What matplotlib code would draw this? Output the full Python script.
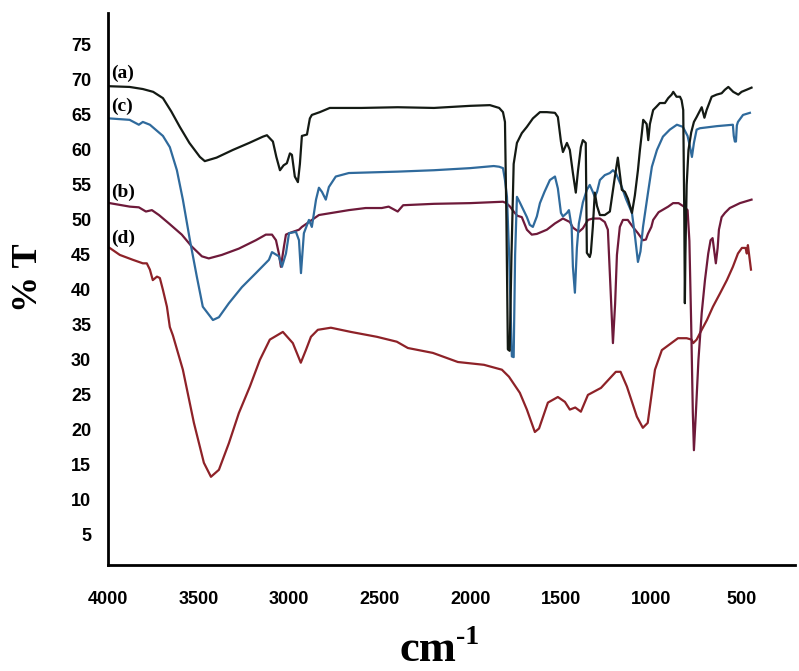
import matplotlib
matplotlib.use("Agg")
import matplotlib.pyplot as plt

# FTIR spectra: (wavenumber cm-1, %T)
spectrum_a = [
    (3990, 69.1), (3880, 69.0), (3807, 68.7), (3750, 68.3), (3696, 67.4), (3650, 65.5),
    (3603, 63.3), (3550, 61.0), (3492, 59.0), (3465, 58.4), (3400, 58.9), (3310, 60.0),
    (3220, 61.0), (3144, 61.9), (3122, 62.1), (3089, 61.2), (3070, 59.0), (3050, 57.1),
    (3030, 57.8), (3012, 58.1), (2995, 59.5), (2984, 59.3), (2968, 56.2), (2951, 55.4),
    (2940, 58.0), (2929, 62.0), (2901, 62.2), (2885, 64.5), (2874, 65.0), (2830, 65.4),
    (2775, 66.0), (2600, 66.0), (2400, 66.1), (2200, 66.0), (2000, 66.3), (1891, 66.4),
    (1840, 66.0), (1819, 65.4), (1808, 64.0), (1800, 50.0), (1792, 31.5), (1782, 31.3),
    (1772, 45.0), (1760, 58.0), (1742, 61.0), (1715, 62.4), (1687, 63.3), (1654, 64.5),
    (1615, 65.4), (1577, 65.4), (1532, 65.3), (1516, 64.7), (1499, 61.2), (1488, 59.7),
    (1466, 61.0), (1450, 60.0), (1433, 56.7), (1417, 53.9), (1405, 57.0), (1389, 60.4),
    (1378, 61.4), (1362, 61.0), (1356, 45.3), (1340, 44.7), (1334, 45.3), (1323, 49.0),
    (1312, 53.9), (1300, 52.0), (1284, 50.7), (1257, 50.7), (1229, 51.2), (1201, 56.2),
    (1185, 58.9), (1163, 54.3), (1146, 54.0), (1129, 53.0), (1107, 51.0), (1091, 53.5),
    (1074, 57.1), (1063, 60.0), (1052, 62.5), (1045, 64.3), (1035, 64.0), (1026, 63.7),
    (1017, 61.4), (1008, 63.7), (990, 65.7), (971, 66.2), (953, 66.7), (925, 66.7),
    (907, 67.4), (888, 67.9), (879, 68.3), (861, 67.6), (842, 67.6), (833, 67.1),
    (824, 65.7), (818, 50.0), (815, 38.1), (812, 45.0), (805, 55.0), (795, 60.0),
    (780, 62.5), (765, 64.0), (750, 64.7), (722, 66.1), (707, 64.6), (695, 65.7),
    (667, 67.6), (640, 67.9), (612, 68.1), (594, 68.6), (575, 69.0), (548, 68.3),
    (520, 67.9), (502, 68.3), (474, 68.6), (447, 68.9),
]

spectrum_b = [
    (3990, 52.4), (3879, 51.9), (3829, 51.8), (3790, 51.2), (3757, 51.4), (3718, 50.7),
    (3663, 49.5), (3592, 47.9), (3537, 46.2), (3481, 44.8), (3443, 44.5), (3371, 45.0),
    (3277, 45.9), (3183, 47.1), (3128, 47.9), (3094, 47.9), (3072, 47.1), (3056, 45.2),
    (3045, 43.3), (3028, 46.2), (3017, 47.9), (3000, 48.1), (2945, 48.6), (2929, 49.0),
    (2890, 49.7), (2835, 50.7), (2764, 51.0), (2670, 51.4), (2577, 51.7), (2488, 51.7),
    (2450, 51.9), (2400, 51.2), (2370, 52.1), (2200, 52.3), (2000, 52.4), (1819, 52.6),
    (1800, 52.4), (1780, 51.9), (1760, 51.2), (1740, 50.6), (1715, 50.4), (1687, 48.6),
    (1660, 47.9), (1632, 48.0), (1577, 48.6), (1532, 49.5), (1488, 50.2), (1450, 49.7),
    (1433, 48.9), (1400, 48.3), (1378, 48.8), (1350, 50.0), (1323, 50.2), (1284, 50.2),
    (1257, 49.7), (1240, 48.6), (1225, 40.0), (1212, 32.4), (1200, 38.0), (1190, 45.0),
    (1174, 49.0), (1157, 50.0), (1130, 50.0), (1102, 49.0), (1074, 48.1), (1046, 47.1),
    (1030, 47.2), (1019, 48.0), (1000, 49.0), (990, 50.0), (960, 51.1), (907, 51.9),
    (880, 52.4), (850, 52.4), (820, 51.9), (800, 51.4), (790, 47.0), (780, 35.0),
    (771, 22.4), (765, 17.1), (755, 22.0), (740, 30.0), (722, 36.7), (704, 41.4),
    (686, 45.2), (673, 47.1), (662, 47.4), (655, 46.0), (644, 43.8), (634, 46.0),
    (627, 48.6), (612, 50.4), (594, 51.0), (567, 51.7), (511, 52.4), (447, 52.9),
]

spectrum_c = [
    (3990, 64.5), (3880, 64.3), (3829, 63.6), (3807, 64.0), (3768, 63.6), (3696, 62.0),
    (3658, 60.4), (3619, 57.1), (3586, 52.9), (3547, 47.1), (3509, 41.9), (3476, 37.6),
    (3420, 35.7), (3387, 36.1), (3332, 38.1), (3260, 40.4), (3183, 42.4), (3111, 44.3),
    (3094, 45.4), (3056, 44.8), (3039, 43.3), (3017, 45.2), (3000, 48.1), (2962, 48.3),
    (2945, 47.1), (2934, 42.4), (2918, 48.1), (2890, 50.0), (2874, 49.0), (2851, 52.9),
    (2835, 54.6), (2818, 54.0), (2797, 52.9), (2780, 54.7), (2742, 56.2), (2670, 56.7),
    (2400, 56.9), (2200, 57.1), (2000, 57.4), (1870, 57.7), (1840, 57.6), (1819, 57.4),
    (1808, 55.7), (1797, 53.3), (1785, 45.0), (1770, 30.5), (1760, 30.4), (1752, 45.0),
    (1742, 53.3), (1726, 52.5), (1687, 50.4), (1671, 49.3), (1654, 49.0), (1632, 50.5),
    (1615, 52.4), (1590, 54.0), (1560, 55.7), (1532, 56.2), (1516, 54.5), (1499, 51.0),
    (1488, 50.5), (1466, 51.0), (1455, 51.4), (1440, 49.0), (1433, 43.3), (1422, 39.6),
    (1411, 46.0), (1400, 49.5), (1378, 52.5), (1356, 54.3), (1340, 55.0), (1323, 54.0),
    (1312, 53.3), (1300, 54.0), (1284, 55.7), (1257, 56.4), (1229, 56.7), (1212, 57.1),
    (1196, 56.7), (1163, 54.7), (1140, 53.0), (1107, 51.0), (1090, 47.6), (1074, 44.0),
    (1060, 45.5), (1046, 49.0), (1019, 53.8), (997, 57.6), (969, 60.0), (936, 61.9),
    (898, 62.9), (859, 63.6), (826, 63.3), (800, 62.0), (787, 60.5), (776, 59.0),
    (765, 61.0), (750, 62.9), (732, 63.1), (638, 63.4), (550, 63.6), (545, 62.0),
    (539, 61.2), (533, 61.2), (528, 63.5), (522, 64.0), (494, 65.0), (456, 65.3),
]

spectrum_d = [
    (3990, 46.0), (3934, 45.0), (3862, 44.3), (3807, 43.8), (3785, 43.8), (3768, 42.9),
    (3752, 41.4), (3729, 41.9), (3713, 41.7), (3696, 40.0), (3674, 37.6), (3658, 34.7),
    (3641, 33.5), (3586, 28.6), (3525, 21.0), (3470, 15.3), (3431, 13.3), (3387, 14.3),
    (3332, 18.1), (3277, 22.4), (3216, 26.2), (3161, 30.0), (3106, 32.9), (3034, 34.0),
    (2979, 32.4), (2935, 29.6), (2907, 31.4), (2879, 33.3), (2841, 34.3), (2769, 34.6),
    (2659, 34.0), (2515, 33.3), (2405, 32.6), (2344, 31.7), (2206, 31.0), (2068, 29.7),
    (1924, 29.3), (1825, 28.6), (1786, 27.6), (1726, 25.3), (1687, 22.9), (1643, 19.7),
    (1620, 20.2), (1571, 23.9), (1516, 24.7), (1477, 24.0), (1450, 22.9), (1420, 23.2),
    (1389, 22.6), (1350, 25.0), (1278, 26.0), (1196, 28.3), (1170, 28.3), (1135, 26.2),
    (1080, 21.9), (1047, 20.3), (1020, 21.0), (980, 28.6), (942, 31.4), (853, 33.1),
    (805, 33.1), (778, 32.9), (769, 32.4), (750, 32.9), (722, 34.3), (693, 35.7),
    (660, 37.6), (621, 39.5), (583, 41.4), (550, 43.3), (522, 45.2), (500, 46.0),
    (480, 46.0), (473, 45.2), (467, 46.4), (450, 42.9),
]

labels = ["(a)", "(c)", "(b)", "(d)"]
label_pos = [71.0, 66.2, 53.9, 47.4]

x_ticks = [4000, 3500, 3000, 2500, 2000, 1500, 1000, 500]
y_ticks = [5, 10, 15, 20, 25, 30, 35, 40, 45, 50, 55, 60, 65, 70, 75]

fig = plt.figure(figsize=(7.99, 6.71), dpi=100)
ax = fig.add_axes([0.135, 0.158, 0.86, 0.823])

styles = [
    (spectrum_d, "#8e2228"),
    (spectrum_b, "#6e1a3a"),
    (spectrum_c, "#2f6a9c"),
    (spectrum_a, "#141a14"),
]
for data, color in styles:
    wn, t = zip(*data)
    ax.plot(wn, t, color=color, lw=1.6)

for text, y in zip(labels, label_pos):
    ax.text(3980, y, text, ha="left", va="center", fontsize=14,
            fontweight="bold", family="Liberation Serif")

ax.set_xlim(4000, 207)
ax.set_ylim(0.7, 79.6)
ax.set_xticks(x_ticks)
ax.set_yticks(y_ticks)
ax.tick_params(axis="x", length=0, pad=19)
ax.tick_params(axis="y", length=0, pad=12)
for lab in ax.get_xticklabels() + ax.get_yticklabels():
    lab.set_fontfamily("Liberation Sans")
    lab.set_fontweight("bold")
    lab.set_fontsize(13)

ax.spines["top"].set_visible(False)
ax.spines["right"].set_visible(False)
ax.spines["left"].set_linewidth(2)
ax.spines["bottom"].set_linewidth(2)

fig.text(0.036, 1 - 278 / 671, "% T", rotation=90, ha="center", va="center",
         fontsize=26, fontweight="bold", family="Liberation Serif")
fig.text(428 / 799, 1 - 661 / 671, "cm", ha="center", va="baseline",
         fontsize=32, fontweight="bold", family="Liberation Serif")
fig.text(468 / 799, 1 - 637 / 671, "-1", ha="center", va="center",
         fontsize=20, fontweight="bold", family="Liberation Serif")

fig.savefig("out.png", dpi=100)
